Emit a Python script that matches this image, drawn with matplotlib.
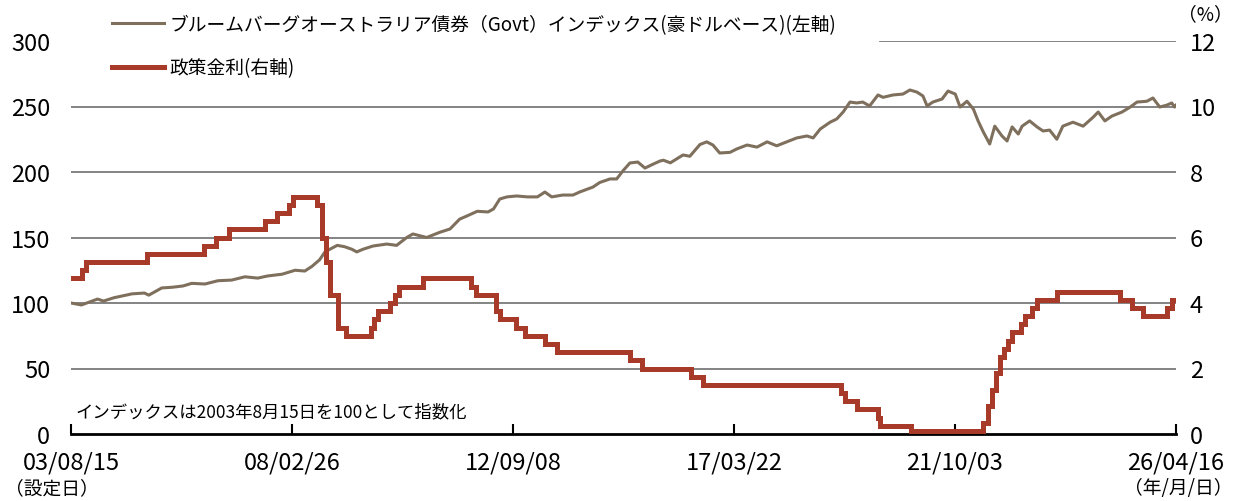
import matplotlib
matplotlib.use("Agg")
import matplotlib.pyplot as plt
import pandas as pd
from matplotlib.lines import Line2D

plt.rcParams['font.family'] = ['Noto Sans CJK JP', 'DejaVu Sans']

# policy rate (RBA cash rate target, %) - step dates
rate_dates = ["2003-08-15", "2003-11-06", "2003-12-04", "2005-03-03", "2006-05-04",
              "2006-08-03", "2006-11-09", "2007-08-09", "2007-11-08", "2008-02-06",
              "2008-03-05", "2008-09-03", "2008-10-08", "2008-11-05", "2008-12-03",
              "2009-02-04", "2009-04-08", "2009-10-07", "2009-11-04", "2009-12-02",
              "2010-03-03", "2010-04-07", "2010-05-05", "2010-11-03", "2011-11-02",
              "2011-12-07", "2012-05-02", "2012-06-06", "2012-10-03", "2012-12-05",
              "2013-05-08", "2013-08-07", "2015-02-04", "2015-05-06", "2016-05-04",
              "2016-08-03", "2019-06-05", "2019-07-03", "2019-10-02", "2020-03-04",
              "2020-03-20", "2020-11-04", "2022-05-04", "2022-06-08", "2022-07-06",
              "2022-08-03", "2022-09-07", "2022-10-05", "2022-11-02", "2022-12-07",
              "2023-02-08", "2023-03-08", "2023-05-03", "2023-06-07", "2023-11-08",
              "2025-02-19", "2025-05-21", "2025-08-13", "2026-02-04", "2026-03-18",
              "2026-04-16"]
rate_values = [4.75, 5.00, 5.25, 5.50, 5.75, 6.00, 6.25, 6.50, 6.75, 7.00,
               7.25, 7.00, 6.00, 5.25, 4.25, 3.25, 3.00, 3.25, 3.50, 3.75,
               4.00, 4.25, 4.50, 4.75, 4.50, 4.25, 3.75, 3.50, 3.25, 3.00,
               2.75, 2.50, 2.25, 2.00, 1.75, 1.50, 1.25, 1.00, 0.75, 0.50,
               0.25, 0.10, 0.35, 0.85, 1.35, 1.85, 2.35, 2.60, 2.85, 3.10,
               3.35, 3.60, 3.85, 4.10, 4.35, 4.10, 3.85, 3.60, 3.85, 4.10,
               4.10]

# bond index (2003-08-15 = 100)
index_dates = ["2003-08-15", "2003-11-01", "2004-03-01", "2004-04-15", "2004-07-01",
               "2004-11-15", "2005-02-15", "2005-03-20", "2005-06-25", "2005-09-10",
               "2005-12-01", "2006-02-05", "2006-05-15", "2006-08-20", "2006-12-01",
               "2007-03-10", "2007-06-15", "2007-08-25", "2007-12-15", "2008-03-20",
               "2008-06-01", "2008-07-25", "2008-09-20", "2008-10-30", "2008-12-05",
               "2009-01-30", "2009-03-25", "2009-05-20", "2009-06-25", "2009-08-10",
               "2009-10-25", "2010-02-05", "2010-04-20", "2010-07-05", "2010-08-20",
               "2010-12-01", "2011-03-10", "2011-05-25", "2011-08-05", "2011-09-28",
               "2011-12-15", "2012-03-05", "2012-04-15", "2012-06-01", "2012-07-25",
               "2012-10-05", "2012-12-25", "2013-03-10", "2013-05-05", "2013-06-25",
               "2013-09-15", "2013-12-01", "2014-01-20", "2014-04-30", "2014-06-20",
               "2014-09-05", "2014-10-25", "2014-12-10", "2015-02-01", "2015-04-01",
               "2015-05-25", "2015-07-25", "2015-09-15", "2015-10-10", "2015-12-01",
               "2016-03-05", "2016-04-25", "2016-07-10", "2016-08-30", "2016-10-15",
               "2016-12-05", "2017-02-20", "2017-04-12", "2017-06-28", "2017-09-10",
               "2017-11-25", "2018-02-05", "2018-04-22", "2018-07-05", "2018-09-20",
               "2018-11-05", "2018-12-28", "2019-03-12", "2019-05-01", "2019-06-18",
               "2019-08-08", "2019-09-27", "2019-11-12", "2020-01-02", "2020-03-05",
               "2020-04-12", "2020-06-25", "2020-09-08", "2020-10-30", "2020-12-22",
               "2021-02-05", "2021-03-08", "2021-04-20", "2021-06-28", "2021-08-12",
               "2021-10-05", "2021-11-10", "2022-01-01", "2022-02-18", "2022-03-25",
               "2022-05-01", "2022-06-20", "2022-07-28", "2022-09-20", "2022-10-28",
               "2022-12-05", "2023-01-20", "2023-02-18", "2023-04-15", "2023-06-10",
               "2023-07-25", "2023-09-12", "2023-11-05", "2023-12-20", "2024-03-05",
               "2024-05-20", "2024-08-05", "2024-09-10", "2024-10-30", "2024-12-22",
               "2025-03-08", "2025-05-08", "2025-06-28", "2025-09-10", "2025-10-25",
               "2025-12-15", "2026-02-05", "2026-03-15", "2026-04-05", "2026-04-16"]
index_values = [100, 98.5, 103, 101.5, 104, 107, 107.6, 106, 111.5, 112,
                113, 115, 114.5, 117, 117.5, 120, 119, 120.6, 122, 125,
                124.4, 128, 133, 139, 141, 144, 143, 141, 139, 141,
                143.5, 145, 144, 150, 152.7, 150, 154, 156.5, 164, 166.4,
                170, 169.5, 171.8, 179.4, 181, 181.7, 181, 181, 184.7, 181,
                182.4, 182.4, 184.7, 188.5, 192, 194.7, 194.7, 200.8, 206.9, 207.6,
                203, 206, 208.4, 209, 207, 213, 212, 221, 223, 220.6,
                214.5, 215, 217.6, 220.6, 219, 223, 220, 223, 226, 227.5,
                226, 232.8, 238, 240.5, 245.8, 253.4, 252.7, 253.4, 250.4, 258.8,
                257, 258.8, 259.5, 262.6, 261, 258, 250.4, 253.4, 255.7, 261.8,
                259.5, 249.6, 254, 248, 239, 231, 221.4, 235, 227.5, 223.7,
                234.4, 229, 235, 239, 234.4, 231.3, 232, 225, 235, 238,
                235, 242, 245.8, 239, 242.7, 245.8, 249.6, 253.4, 254, 256.5,
                249.6, 251, 252.7, 249.6, 251]

xtick_dates = ["2003-08-15", "2008-02-26", "2012-09-08", "2017-03-22", "2021-10-03", "2026-04-16"]
xtick_labels = ["03/08/15", "08/02/26", "12/09/08", "17/03/22", "21/10/03", "26/04/16"]
left_ticks = [0, 50, 100, 150, 200, 250, 300]
right_ticks = [0, 2, 4, 6, 8, 10, 12]

index_color = "#7f705e"
rate_color = "#a83a2a"
grid_color = "#7a7a7a"

rd = pd.to_datetime(rate_dates)
idd = pd.to_datetime(index_dates)
xt = pd.to_datetime(xtick_dates)

fig = plt.figure(figsize=(12.37, 5.02), dpi=100)
ax = fig.add_axes([71 / 1237, 1 - 435 / 502, 1105 / 1237, 393 / 502])
ax2 = ax.twinx()

ax.set_xlim(xt[0], xt[-1])
ax.set_ylim(0, 300)
ax2.set_ylim(0, 12)

# gridlines (top line starts right of the legend)
for v in left_ticks[1:-1]:
    ax.axhline(v, color=grid_color, lw=1.3, zorder=0)
ax.axhline(300, xmin=(880 - 71) / 1105, xmax=1, color=grid_color, lw=1.3, zorder=0)

ax.plot(idd, index_values, color=index_color, lw=2.2, zorder=2)
ax2.plot(rd, rate_values, color=rate_color, lw=3.6, drawstyle="steps-post",
         solid_joinstyle="miter", zorder=3)

for a in (ax, ax2):
    for s in ("top", "left", "right"):
        a.spines[s].set_visible(False)
ax2.spines["bottom"].set_visible(False)
ax.spines["bottom"].set_linewidth(2)
ax.spines["bottom"].set_color("black")

tick_fs = 17
ax.set_xticks(xt)
ax.set_xticklabels(xtick_labels)
ax.tick_params(axis="x", direction="in", length=7, width=1.5, pad=12, labelsize=tick_fs)
ax.set_yticks(left_ticks)
ax.tick_params(axis="y", length=0, pad=15, labelsize=tick_fs)
ax2.set_yticks(right_ticks)
ax2.tick_params(axis="y", length=0, pad=10, labelsize=tick_fs)

fs = 13.5
handles = [Line2D([], [], color=index_color, lw=2.2),
           Line2D([], [], color=rate_color, lw=3.6)]
labels = ["ブルームバーグオーストラリア債券（Govt）インデックス(豪ドルベース)(左軸)", "政策金利(右軸)"]
fig.legend(handles, labels, loc="upper left", bbox_to_anchor=(112 / 1237, 1 - 15 / 502),
           frameon=False, fontsize=fs, handlelength=2.8, handletextpad=0.25,
           labelspacing=1.2, borderpad=0, borderaxespad=0)

ax.text(0.004, 0.035, "インデックスは2003年8月15日を100として指数化", transform=ax.transAxes,
        fontsize=12.5, ha="left", va="bottom")

fig.text(1205 / 1237, 1 - 15 / 502, "（%）", fontsize=13.5, ha="center", va="center")
fig.text(52 / 1237, 1 - 489 / 502, "（設定日）", fontsize=13.5, ha="center", va="center")
fig.text(1178 / 1237, 1 - 489 / 502, "（年/月/日）", fontsize=13.5, ha="center", va="center")

fig.savefig("out.png", dpi=100)
